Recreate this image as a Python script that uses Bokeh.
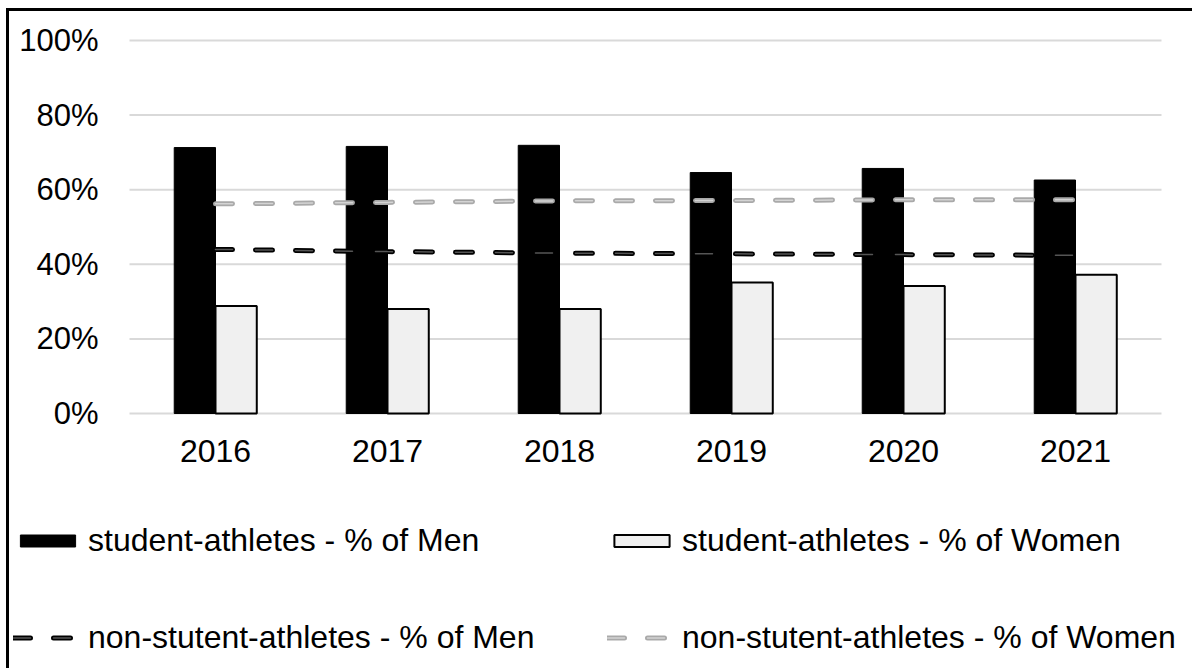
from bokeh.plotting import figure
from bokeh.models import ColumnDataSource, Range1d, Legend, LegendItem
from bokeh.core.properties import value
from bokeh.embed import file_html
from bokeh.resources import INLINE

# Share of each gender (%) per year
years = ["2016", "2017", "2018", "2019", "2020", "2021"]
athletes_men = [71.3, 71.6, 71.9, 64.6, 65.7, 62.6]
athletes_women = [28.8, 28.0, 28.0, 35.1, 34.2, 37.2]
non_athletes_men = [44.0, 43.4, 43.0, 42.8, 42.6, 42.4]
non_athletes_women = [56.2, 56.6, 57.0, 57.1, 57.3, 57.3]
y_ticks = [0, 20, 40, 60, 80, 100]
y_tick_labels = ["0%", "20%", "40%", "60%", "80%", "100%"]

FONT = "Liberation Sans"
TICK_FS = "31px"
CAT_FS = "32px"
LEG_FS = "32px"

# canvas geometry (pixels)
W, H = 1186, 660
LEFT, RIGHT, TOP, BOTTOM = 120, 34, 29, 258
PX_X = (W - LEFT - RIGHT) / len(years)      # pixels per category
PX_Y = (H - TOP - BOTTOM) / 100.0           # pixels per percent

n = len(years)
centers = [i + 0.5 for i in range(n)]
bw = 0.24

bars = ColumnDataSource(dict(
    xm=[c - bw / 2 for c in centers],
    xw=[c + bw / 2 for c in centers],
    men=athletes_men,
    women=athletes_women,
))
lines = ColumnDataSource(dict(x=centers, nmen=non_athletes_men, nwomen=non_athletes_women))
grid = ColumnDataSource(dict(y=y_ticks, x0=[0] * len(y_ticks), x1=[n] * len(y_ticks),
                             label=y_tick_labels))
cats = ColumnDataSource(dict(x=centers, y=[0] * n, label=years))

p = figure(
    x_range=Range1d(-LEFT / PX_X, (W - LEFT) / PX_X),
    y_range=Range1d(-BOTTOM / PX_Y, (H - BOTTOM) / PX_Y),
    width=W, height=H,
    output_backend="svg", toolbar_location=None,
    min_border=0,
)
p.styles = {"border-style": "solid none none solid", "border-width": "3px",
            "border-color": "black", "margin-left": "6px", "margin-top": "8px"}
p.axis.visible = False
p.grid.visible = False
p.outline_line_color = None
p.background_fill_color = "white"
p.border_fill_color = "white"

# horizontal gridlines
p.segment(x0="x0", x1="x1", y0="y", y1="y", source=grid,
          line_color="#d9d9d9", line_width=2)

# value axis labels
p.text(x="x0", y="y", text="label", source=grid, x_offset=-31,
       text_align="right", text_baseline="middle",
       text_font=value(FONT), text_font_size=TICK_FS, text_color="black")

# category labels
p.text(x="x", y="y", text="label", source=cats, y_offset=26,
       text_align="center", text_baseline="top",
       text_font=value(FONT), text_font_size=CAT_FS, text_color="black")

# bars
r_men = p.vbar(x="xm", top="men", width=bw, source=bars,
               fill_color="black", line_color="black", line_width=1)
r_women = p.vbar(x="xw", top="women", width=bw, source=bars,
                 fill_color="#f0f0f0", line_color="black", line_width=2)

# dashed lines (outer stroke plus lighter core)
dash = "17 23"
r_nm_o = p.line("x", "nmen", source=lines, line_color="black", line_width=5,
                line_dash=dash, line_cap="round")
r_nm_i = p.line("x", "nmen", source=lines, line_color="#555555", line_width=1.5,
                line_dash=dash, line_cap="round")
r_nw_o = p.line("x", "nwomen", source=lines, line_color="#a9a9a9", line_width=5,
                line_dash=dash, line_cap="round")
r_nw_i = p.line("x", "nwomen", source=lines, line_color="#d4d4d4", line_width=1.5,
                line_dash=dash, line_cap="round")


def make_legend(items, loc):
    return Legend(items=items, location=loc, orientation="vertical",
                  glyph_width=69, glyph_height=15, label_standoff=6, label_height=38,
                  label_text_font=FONT, label_text_font_size=LEG_FS,
                  label_text_color="black", spacing=59, padding=0, margin=0,
                  border_line_color=None, background_fill_alpha=0)


p.add_layout(make_legend([
    LegendItem(label="student-athletes - % of Men", renderers=[r_men]),
    LegendItem(label="non-stutent-athletes - % of Men", renderers=[r_nm_o, r_nm_i]),
], (4, 15)), "center")
p.add_layout(make_legend([
    LegendItem(label="student-athletes - % of Women", renderers=[r_women]),
    LegendItem(label="non-stutent-athletes - % of Women", renderers=[r_nw_o, r_nw_i]),
], (598, 15)), "center")

open("out.html", "w").write(file_html(p, INLINE))
